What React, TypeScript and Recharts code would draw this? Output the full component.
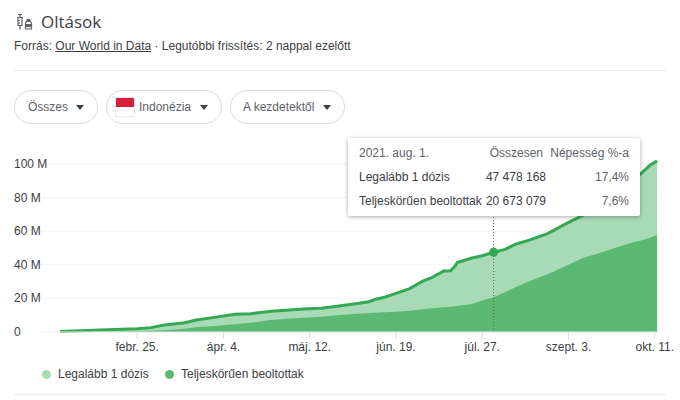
import { ComposedChart, Area, XAxis, YAxis, CartesianGrid, ReferenceLine, ReferenceDot } from 'recharts';

const days = [0, 18, 34, 40, 46, 55, 60, 68, 77, 84, 93, 101, 109, 115, 122, 131, 136, 139, 143, 148, 154, 160, 164, 169, 172, 174, 175, 181, 186, 191, 196, 201, 207, 215, 223, 230, 238, 245, 254, 256, 260, 263];
const firstDose = [0.3, 1.2, 2, 2.6, 4.2, 5.5, 7.1, 8.7, 10.5, 10.9, 12.3, 13.1, 13.9, 14.1, 15.3, 17, 18, 19.5, 20.7, 23, 25.8, 30.4, 32.5, 36.3, 36.5, 39.3, 41.3, 43.9, 45.4, 47.478, 49.2, 52.4, 54.8, 58.7, 64.5, 69.3, 76, 84, 92, 94.4, 99.4, 101.8];
const fullyVaccinated = [0.1, 0.2, 0.5, 0.7, 1, 2, 2.8, 3.6, 4.6, 5.5, 7.1, 8.1, 8.7, 9.1, 9.9, 10.9, 11.3, 11.5, 11.7, 12.1, 12.7, 13.5, 14.1, 14.7, 15.1, 15.4, 15.6, 16.5, 18.7, 20.673, 23.6, 27, 30.4, 34.5, 39.5, 43.9, 47.2, 50.3, 54, 54.5, 56.2, 57.7];

const xTicks = [34, 72, 110, 148, 186, 224, 262];
const xLabels = ['febr. 25.', 'ápr. 4.', 'máj. 12.', 'jún. 19.', 'júl. 27.', 'szept. 3.', 'okt. 11.'];
const yTicks = [0, 20, 40, 60, 80, 100];
const seriesNames = ['Legalább 1 dózis', 'Teljeskörűen beoltottak'];
const filters = ['Összes', 'Indonézia', 'A kezdetektől'];
const tooltipTotals = ['47 478 168', '20 673 079'];
const tooltipPercents = ['17,4%', '7,6%'];

const chartData = days.map((day, i) => ({ day, first: firstDose[i], full: fullyVaccinated[i] }));

const FONT = 'Liberation Sans, Arial, sans-serif';
const TEXT = '#3c4043';
const GREY = '#5f6368';

function YTick({ y, payload }: any) {
  return (
    <g>
      <line x1={40} x2={60} y1={y} y2={y} stroke="#f1f3f4" />
      <text x={14} y={y + 4} fontSize={12} fontFamily={FONT} fill={TEXT}>
        {payload.value === 0 ? '0' : `${payload.value} M`}
      </text>
    </g>
  );
}

function Chip({ left, width, label, textLeft, flag }: any) {
  return (
    <div style={{ position: 'absolute', left, top: 90, width, height: 34, boxSizing: 'border-box', border: '1px solid #dadce0', borderRadius: 17 }}>
      {flag && (
        <div style={{ position: 'absolute', left: 8, top: 6, width: 20, height: 20, borderRadius: 2, overflow: 'hidden', border: '1px solid #e8eaed', boxSizing: 'border-box', background: '#fff' }}>
          <div style={{ height: 9, background: '#d81e3a' }} />
        </div>
      )}
      <span style={{ position: 'absolute', left: textLeft, top: 9, fontSize: 12, lineHeight: '15px', color: GREY, whiteSpace: 'nowrap' }}>{label}</span>
      <span style={{ position: 'absolute', right: 13, top: 14, width: 0, height: 0, borderLeft: '4.5px solid transparent', borderRight: '4.5px solid transparent', borderTop: '5px solid #3c4043' }} />
    </div>
  );
}

export default function App() {
  return (
    <div style={{ position: 'absolute', left: 0, top: 0, width: 680, height: 400, background: '#fff', overflow: 'hidden', fontFamily: FONT }}>
      {/* header */}
      <svg width={18} height={18} viewBox="0 0 18 18" style={{ position: 'absolute', left: 15, top: 13 }}>
        <g fill="none" stroke={GREY} strokeWidth={1.2}>
          <path d="M3 1.500h4M5 1.500v2.500M2 4.500h6M3 4.500v8h4v-8M5 12.500v4M3 7.500h2M3 10h2" />
          <path d="M11.500 8.500l-1 1.500v6h6v-6l-1-1.500z" />
        </g>
        <rect x={11.500} y={6} width={4} height={2} fill={GREY} />
        <rect x={10.500} y={11} width={6} height={3} fill={GREY} />
      </svg>
      <div style={{ position: 'absolute', left: 41, top: 11, fontSize: 17, lineHeight: '22px', color: TEXT, fontFamily: 'Open Sans' }}>Oltások</div>
      <div style={{ position: 'absolute', left: 14, top: 39, fontSize: 12, lineHeight: '14px', color: TEXT, whiteSpace: 'nowrap' }}>
        Forrás: <span style={{ textDecoration: 'underline' }}>Our World in Data</span> · Legutóbbi frissítés: 2 nappal ezelőtt
      </div>
      <div style={{ position: 'absolute', left: 14, top: 70, width: 652, height: 1, background: '#e8eaed' }} />

      <Chip left={14} width={84} label={filters[0]} textLeft={13} />
      <Chip left={106} width={116} label={filters[1]} textLeft={32} flag />
      <Chip left={230} width={115} label={filters[2]} textLeft={12} />

      {/* chart */}
      <div style={{ position: 'absolute', left: 0, top: 0 }}>
        <ComposedChart width={680} height={400} data={chartData} margin={{ top: 147.2, right: 22, bottom: 38, left: 0 }}>
          <CartesianGrid vertical={false} stroke="#f1f3f4" syncWithTicks />
          <XAxis
            dataKey="day"
            type="number"
            domain={[0, 263.4]}
            ticks={xTicks}
            tickFormatter={(v) => xLabels[xTicks.indexOf(v)]}
            height={30}
            interval={0}
            tickSize={7}
            tickMargin={3}
            axisLine={{ stroke: '#e8eaed' }}
            tickLine={{ stroke: '#dadce0' }}
            tick={{ fontSize: 12, fontFamily: FONT, fill: TEXT }}
          />
          <YAxis width={60} domain={[0, 110]} ticks={yTicks} interval={0} axisLine={false} tickLine={false} tick={<YTick />} />
          <Area dataKey="first" type="linear" fill="#a8dab5" fillOpacity={1} stroke="#34a853" strokeWidth={3} dot={false} activeDot={false} isAnimationActive={false} />
          <Area dataKey="full" type="linear" fill="#5bb974" fillOpacity={1} stroke="none" dot={false} activeDot={false} isAnimationActive={false} />
          <ReferenceLine x={191} stroke="#5f6368" strokeDasharray="1 2" />
          <ReferenceDot x={191} y={47.478} r={4.5} fill="#34a853" stroke="none" />
        </ComposedChart>
      </div>

      {/* tooltip */}
      <div style={{ position: 'absolute', left: 348, top: 138, width: 292, height: 78, background: '#fff', borderRadius: 2, boxShadow: '0 1px 4px rgba(60,64,67,0.45)', fontSize: 12, color: TEXT }}>
        <span style={{ position: 'absolute', left: 11, top: 8, color: GREY, lineHeight: '14px' }}>2021. aug. 1.</span>
        <span style={{ position: 'absolute', right: 97, top: 8, color: GREY, lineHeight: '14px' }}>Összesen</span>
        <span style={{ position: 'absolute', right: 11, top: 8, color: GREY, lineHeight: '14px' }}>Népesség %-a</span>
        {seriesNames.map((name, i) => (
          <div key={name}>
            <span style={{ position: 'absolute', left: 11, top: 32 + i * 23.5, lineHeight: '14px', whiteSpace: 'nowrap' }}>{name}</span>
            <span style={{ position: 'absolute', right: 94, top: 32 + i * 23.5, lineHeight: '14px' }}>{tooltipTotals[i]}</span>
            <span style={{ position: 'absolute', right: 11, top: 32 + i * 23.5, lineHeight: '14px', color: GREY }}>{tooltipPercents[i]}</span>
          </div>
        ))}
      </div>

      {/* legend */}
      <span style={{ position: 'absolute', left: 42, top: 370, width: 9, height: 9, borderRadius: '50%', background: '#a8dab5' }} />
      <span style={{ position: 'absolute', left: 58, top: 367, fontSize: 12, lineHeight: '14px', color: TEXT }}>{seriesNames[0]}</span>
      <span style={{ position: 'absolute', left: 165, top: 370, width: 9, height: 9, borderRadius: '50%', background: '#5bb974' }} />
      <span style={{ position: 'absolute', left: 181, top: 367, fontSize: 12, lineHeight: '14px', color: TEXT }}>{seriesNames[1]}</span>
      <div style={{ position: 'absolute', left: 14, top: 394, width: 652, height: 1, background: '#e8eaed' }} />
    </div>
  );
}
